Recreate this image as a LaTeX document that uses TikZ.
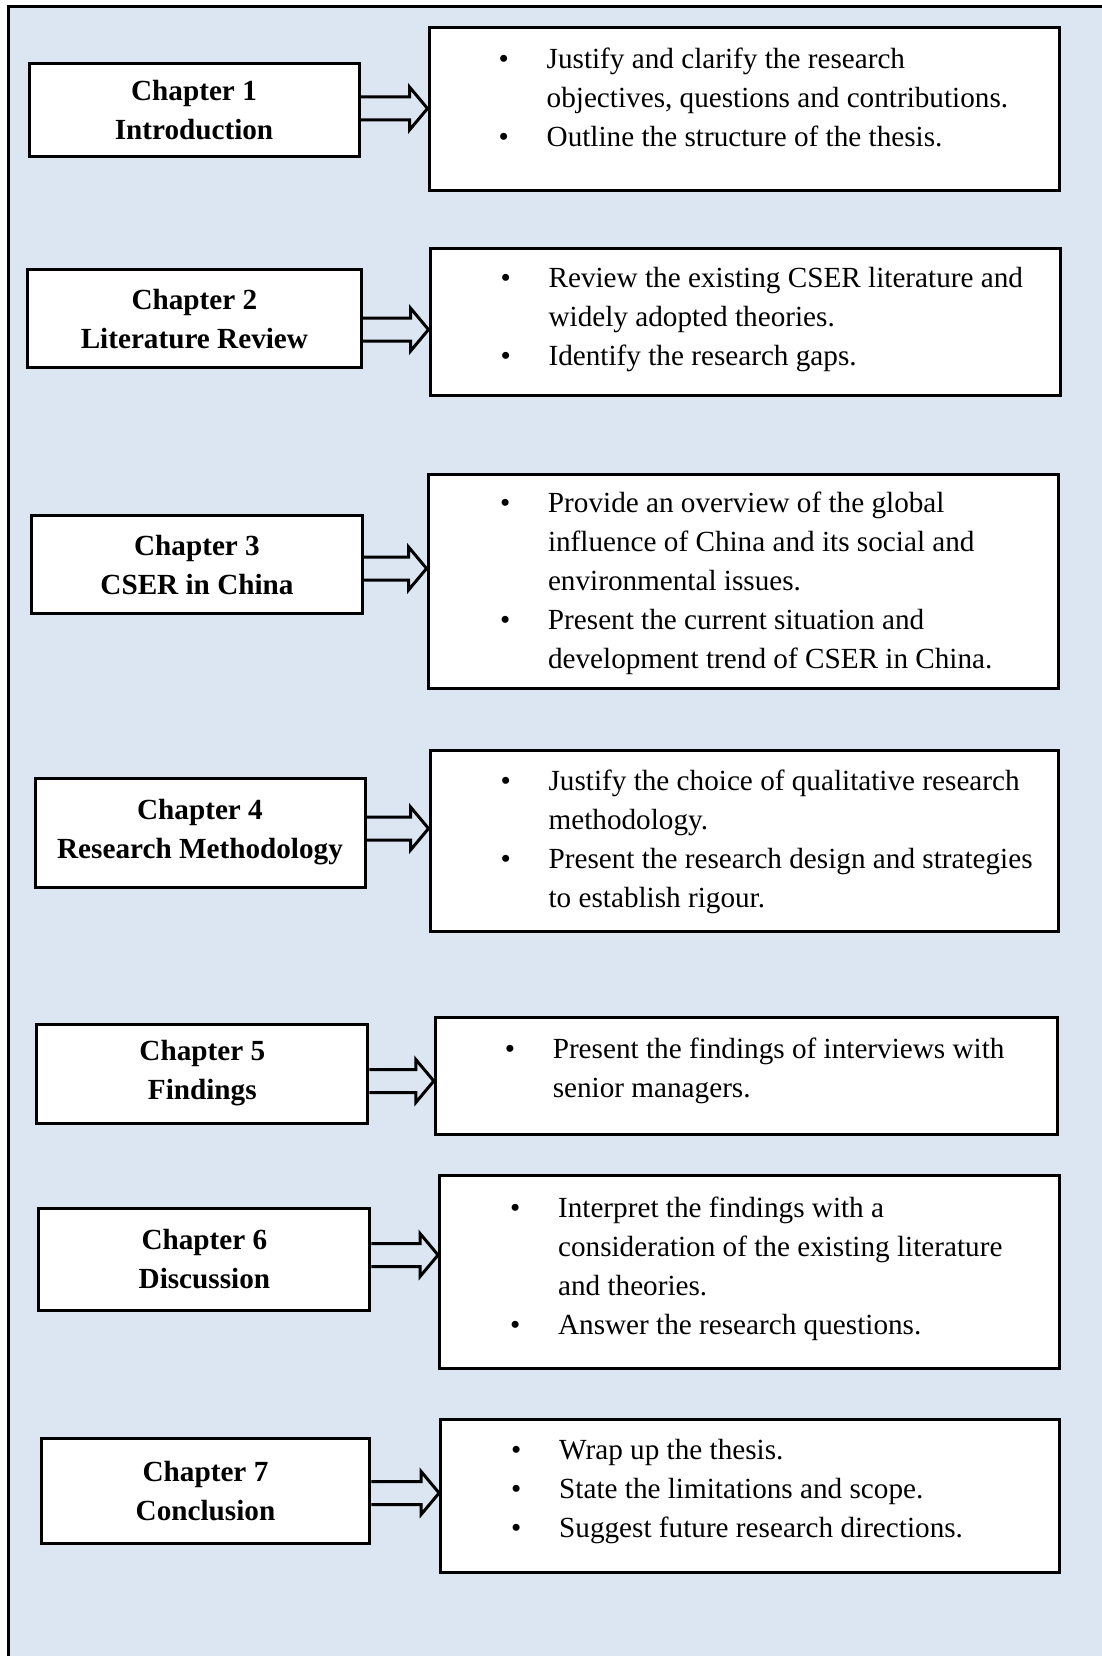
\documentclass[tikz,border=0pt]{standalone}
\usepackage{fontspec}
\setmainfont{Liberation Serif}
\usetikzlibrary{calc}
\definecolor{panelblue}{HTML}{DCE6F2}

\tikzset{
  panel/.style={line width=3pt, draw=black, fill=panelblue},
  chapbox/.style={draw, line width=3pt, fill=white, inner sep=0pt, align=center,
    font=\fontsize{29.2}{39}\selectfont\bfseries},
  notebox/.style={draw, line width=3pt, fill=white, inner sep=0pt},
  notetext/.style={inner sep=0pt, anchor=base west, font=\fontsize{29.2}{39}\selectfont},
  hollow/.style={line width=3pt, line join=miter},
}

% bullet cell of a note line
\newcommand\blt{\makebox[48pt][l]{•}}

% hollow block arrow from the east side of #1 to the west side of #2,
% shifted vertically by #3
\newcommand\hollowarrow[3]{%
  \draw[hollow] let \p1=($(#1.east)+(0,#3)$), \p2=(#2.west) in
    (\x1,\y1+11.5pt) -- (\x2-18pt,\y1+11.5pt) -- (\x2-18pt,\y1+21.5pt) -- (\x2,\y1)
    -- (\x2-18pt,\y1-21.5pt) -- (\x2-18pt,\y1-11.5pt) -- (\x1,\y1-11.5pt);}

\begin{document}
\begin{tikzpicture}[x=1pt,y=-1pt]
\useasboundingbox (0,0) rectangle (1102,1656);
\clip (0,0) rectangle (1102,1656);
\fill[white] (0,0) rectangle (1102,1656);
\draw[panel] (8.5,6.5) rectangle (1200,1800);

% chapter boxes
\node[chapbox, minimum width=330pt, minimum height=93pt]  (c1) at (194,110.5)   {Chapter 1\\Introduction};
\node[chapbox, minimum width=334pt, minimum height=98pt]  (c2) at (194.4,318.6) {Chapter 2\\Literature Review};
\node[chapbox, minimum width=331pt, minimum height=98pt]  (c3) at (197,564.8)   {Chapter 3\\CSER in China};
\node[chapbox, minimum width=330pt, minimum height=109pt] (c4) at (200,832.5)   {Chapter 4\\Research Methodology};
\node[chapbox, minimum width=331pt, minimum height=99pt]  (c5) at (202.3,1073.5){Chapter 5\\Findings};
\node[chapbox, minimum width=331pt, minimum height=101.5pt] (c6) at (204.4,1259.5) {Chapter 6\\Discussion};
\node[chapbox, minimum width=328.6pt, minimum height=105.7pt] (c7) at (205.5,1491) {Chapter 7\\Conclusion};

% summary boxes
\node[notebox, minimum width=630pt, minimum height=163pt]   (r1) at (744,109.5) {};
\node[notebox, minimum width=630pt, minimum height=147pt]   (r2) at (745,321.8) {};
\node[notebox, minimum width=630.7pt, minimum height=214pt] (r3) at (743.4,581) {};
\node[notebox, minimum width=628.7pt, minimum height=181.8pt] (r4) at (744.4,841) {};
\node[notebox, minimum width=622.4pt, minimum height=117.3pt] (r5) at (746.5,1076) {};
\node[notebox, minimum width=620.3pt, minimum height=192.3pt] (r6) at (749.7,1272) {};
\node[notebox, minimum width=619.2pt, minimum height=153.2pt] (r7) at (750.2,1495.6) {};

% summary texts
\node[notetext] (t1) at (498.5,68.5) {\begin{tabular}[t]{@{}l@{}l@{}}
\blt & Justify and clarify the research\\
     & objectives, questions and contributions.\\
\blt & Outline the structure of the thesis.
\end{tabular}};
\node[notetext] (t2) at (500.4,287.5) {\begin{tabular}[t]{@{}l@{}l@{}}
\blt & Review the existing CSER literature and\\
     & widely adopted theories.\\
\blt & Identify the research gaps.
\end{tabular}};
\node[notetext] (t3) at (499.8,512.7) {\begin{tabular}[t]{@{}l@{}l@{}}
\blt & Provide an overview of the global\\
     & influence of China and its social and\\
     & environmental issues.\\
\blt & Present the current situation and\\
     & development trend of CSER in China.
\end{tabular}};
\node[notetext] (t4) at (500.4,790.3) {\begin{tabular}[t]{@{}l@{}l@{}}
\blt & Justify the choice of qualitative research\\
     & methodology.\\
\blt & Present the research design and strategies\\
     & to establish rigour.
\end{tabular}};
\node[notetext] (t5) at (504.6,1058.6) {\begin{tabular}[t]{@{}l@{}l@{}}
\blt & Present the findings of interviews with\\
     & senior managers.
\end{tabular}};
\node[notetext] (t6) at (509.9,1217.1) {\begin{tabular}[t]{@{}l@{}l@{}}
\blt & Interpret the findings with a\\
     & consideration of the existing literature\\
     & and theories.\\
\blt & Answer the research questions.
\end{tabular}};
\node[notetext] (t7) at (511,1459.1) {\begin{tabular}[t]{@{}l@{}l@{}}
\blt & Wrap up the thesis.\\
\blt & State the limitations and scope.\\
\blt & Suggest future research directions.
\end{tabular}};

% arrows
\hollowarrow{c1}{r1}{-2}
\hollowarrow{c2}{r2}{11}
\hollowarrow{c3}{r3}{3.7}
\hollowarrow{c4}{r4}{-4}
\hollowarrow{c5}{r5}{7.5}
\hollowarrow{c6}{r6}{-4.5}
\hollowarrow{c7}{r7}{2}
\end{tikzpicture}
\end{document}
